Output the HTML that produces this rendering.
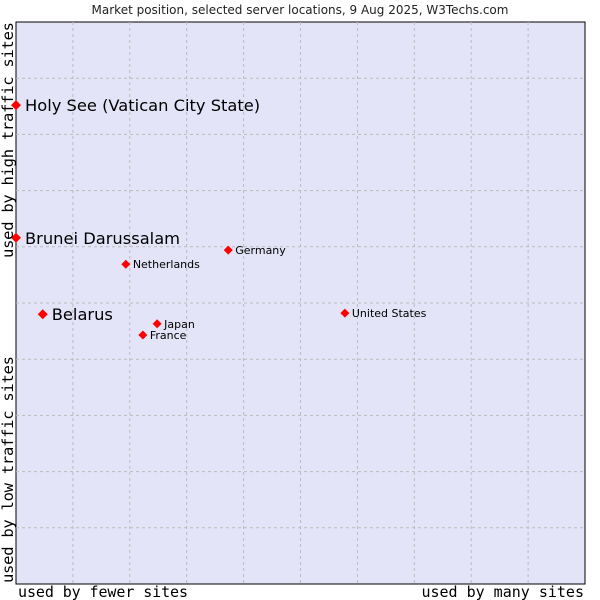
<!DOCTYPE html>
<html><head><meta charset="utf-8"><style>body{margin:0;background:#fff}svg{display:block}</style></head>
<body>
<svg id="chart" width="600" height="600" xmlns="http://www.w3.org/2000/svg">
<text x="300" y="14" text-anchor="middle" font-family="DejaVu Sans, sans-serif" font-size="12" fill="#222">Market position, selected server locations, 9 Aug 2025, W3Techs.com</text>
<rect x="16" y="22" width="569" height="562" fill="#e4e4f8" stroke="#000" stroke-width="1"/>
<g id="grid"></g>
<g id="points"></g>
<text x="18" y="597" textLength="170" font-family="DejaVu Sans Mono, monospace" font-size="15" fill="#000">used by fewer sites</text>
<text x="584" y="597" text-anchor="end" font-family="DejaVu Sans Mono, monospace" font-size="15" fill="#000">used by many sites</text>
<text transform="translate(13,22) rotate(-90)" text-anchor="end" textLength="236" font-family="DejaVu Sans Mono, monospace" font-size="15.5" fill="#000">used by high traffic sites</text>
<text transform="translate(13,583) rotate(-90)" textLength="227" font-family="DejaVu Sans Mono, monospace" font-size="15.5" fill="#000">used by low traffic sites</text>
</svg>
<script>
const names = ["Holy See (Vatican City State)","Brunei Darussalam","Belarus","Netherlands","Germany","United States","Japan","France"];
const xVals = [0,0,4.7,19.3,37.3,57.8,24.8,22.3];
const yVals = [85.2,61.6,48.0,56.9,59.4,48.2,46.3,44.3];
const bigLabel = [true,true,true,false,false,false,false,false];
const NS="http://www.w3.org/2000/svg";
const L=16,T=22,W=569,H=562;
const sx=v=>L+v/100*W, sy=v=>T+H-v/100*H;
const grid=document.getElementById('grid');
for(let i=1;i<10;i++){
  const v=document.createElementNS(NS,'line');
  
  
  v.setAttribute('x1',sx(i*10));v.setAttribute('x2',sx(i*10));v.setAttribute('y1',T);v.setAttribute('y2',T+H);
  v.setAttribute('stroke','#bbb');v.setAttribute('stroke-dasharray','3,3');grid.appendChild(v);
  const h=document.createElementNS(NS,'line');
  
  
  h.setAttribute('y1',sy(i*10));h.setAttribute('y2',sy(i*10));h.setAttribute('x1',L);h.setAttribute('x2',L+W);
  h.setAttribute('stroke','#bbb');h.setAttribute('stroke-dasharray','3,3');grid.appendChild(h);
}
const pts=document.getElementById('points');
names.forEach((n,i)=>{
  const x=sx(xVals[i]),y=sy(yVals[i]);
  const r=bigLabel[i]?5:4.5;
  const d=document.createElementNS(NS,'polygon');
  
  
  d.setAttribute('points',`${x},${y-r} ${x+r},${y} ${x},${y+r} ${x-r},${y}`);
  d.setAttribute('fill','#f00');pts.appendChild(d);
  const t=document.createElementNS(NS,'text');
  
  
  t.setAttribute('x',x+(bigLabel[i]?9:7));t.setAttribute('y',y+(bigLabel[i]?6:4));
  t.setAttribute('font-family','DejaVu Sans, sans-serif');
  t.setAttribute('font-size',bigLabel[i]?16.3:11);t.setAttribute('fill','#000');
  t.textContent=n;pts.appendChild(t);
});
</script>
</body></html>
